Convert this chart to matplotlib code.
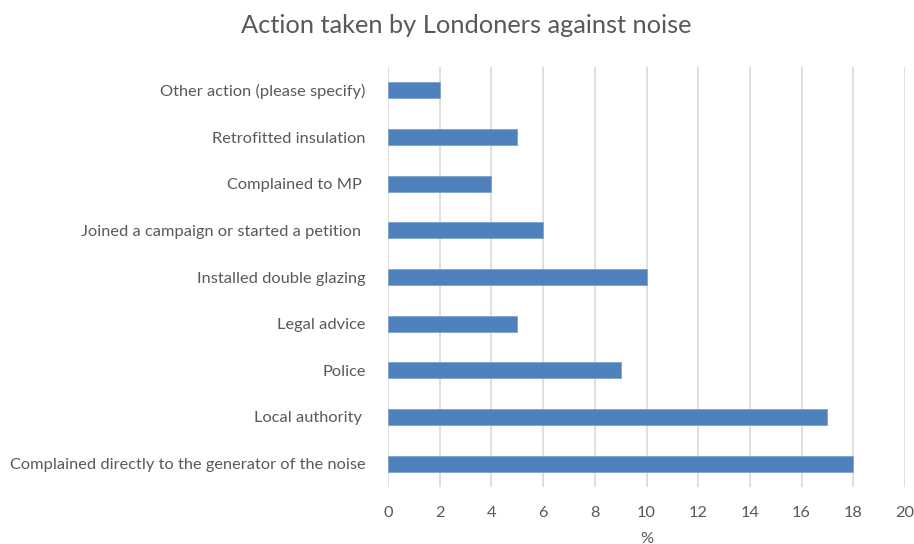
import matplotlib
matplotlib.use("Agg")
import matplotlib.pyplot as plt

categories = ["Complained directly to the generator of the noise",
              "Local authority ",
              "Police",
              "Legal advice",
              "Installed double glazing",
              "Joined a campaign or started a petition ",
              "Complained to MP ",
              "Retrofitted insulation",
              "Other action (please specify)"]
values = [18, 17, 9, 5, 10, 6, 4, 5, 2]
xticks = list(range(0, 21, 2))

plt.rcParams['font.family'] = ['Lato', 'DejaVu Sans']
text_color = "#595959"

fig = plt.figure(figsize=(9.14, 5.44), dpi=100)
ax = fig.add_axes([0.4245, 0.1048, 0.5657, 0.772])

ax.barh(range(len(categories)), values, height=0.34, color="#4f81bd",
        edgecolor="#7ea3d3", linewidth=0.6, zorder=3)

ax.set_xlim(0, 20)
ax.set_ylim(-0.5, len(categories) - 0.5)
ax.set_xticks(xticks)
ax.set_yticks(range(len(categories)))
ax.set_yticklabels(categories)
ax.grid(axis="x", color="#d9d9d9", linewidth=1.2, zorder=0)
for s in ax.spines.values():
    s.set_visible(False)
ax.tick_params(axis="both", length=0, colors=text_color, labelsize=11.8)
ax.tick_params(axis="x", pad=14)
ax.tick_params(axis="y", pad=16)

ax.set_xlabel("%", color=text_color, fontsize=11.8, labelpad=8)
fig.suptitle("Action taken by Londoners against noise", color=text_color,
             fontsize=18.3, x=0.51, y=0.975)

fig.savefig("out.png", dpi=100)
